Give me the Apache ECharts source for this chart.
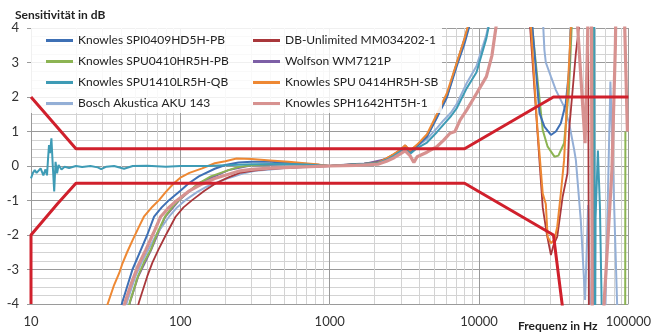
<!DOCTYPE html>
<html><head><meta charset="utf-8">
<script src="https://cdn.jsdelivr.net/npm/echarts@6/dist/echarts.min.js"></script>
<style>html,body{margin:0;padding:0;background:#fff}#c{width:654px;height:333px}</style>
</head><body><div id="c"></div>
<script>
// ---- tick labels / axis ----
const xTickLabels = [10, 100, 1000, 10000, 100000];
const yTicks = [-4, -3, -2, -1, 0, 1, 2, 3, 4];
const xMinorGrid = [20,30,40,50,60,70,80,90,200,300,400,500,600,700,800,900,2000,3000,4000,5000,6000,7000,8000,9000,20000,30000,40000,50000,60000,70000,80000,90000];

// ---- series names ----
const names = ['Knowles SPI0409HD5H-PB','DB-Unlimited MM034202-1','Knowles SPU0410HR5H-PB','Wolfson WM7121P','Knowles SPU1410LR5H-QB','Knowles SPU 0414HR5H-SB','Bosch Akustica AKU 143','Knowles SPH1642HT5H-1'];

// ---- series values: [frequency Hz, dB] ----
const spi0409 = [[38,-4.4],[41,-3.93],[44,-3.5],[47.8,-3.0],[54.4,-2.43],[60,-2.0],[66.7,-1.47],[75,-1.2],[84,-0.99],[100,-0.72],[114,-0.5],[133,-0.3],[170,-0.08],[200,0.03],[245,0.1],[300,0.12],[400,0.12],[600,0.08],[800,0.04],[1000,0.0],[1300,0.03],[1700,0.06],[2100,0.1],[2400,0.2],[2700,0.32],[3000,0.44],[3200,0.56],[3450,0.4],[3850,0.58],[4480,0.85],[5220,1.4],[6080,1.98],[7100,2.9],[8000,3.55],[8800,4.2],[12000,8],[21500,8],[22800,4.0],[25400,1.53],[27400,1.14],[30300,0.9],[32700,1.0],[35300,1.24],[38100,1.82],[40100,2.78],[42000,5],[57000,6],[58000,-6]];
const dbUnlimited = [[48,-4.6],[53,-3.93],[60,-3.2],[65,-2.8],[71.2,-2.43],[80,-2.0],[92.9,-1.47],[105,-1.2],[120,-0.99],[145,-0.72],[173,-0.5],[210,-0.33],[250,-0.2],[300,-0.14],[400,-0.08],[600,-0.04],[1000,0.0],[1300,0.04],[1700,0.07],[2100,0.11],[2400,0.22],[2700,0.34],[3000,0.47],[3200,0.6],[3450,0.44],[3850,0.6],[4480,0.88],[5220,1.45],[6080,2.03],[7100,2.95],[8000,3.62],[8700,4.2],[12000,8],[21000,8],[22000,4.0],[26700,-1.2],[28500,-2.0],[30300,-2.58],[31500,-2.3],[33400,-2.05],[36300,-0.89],[39100,-0.21],[40100,1.04],[44500,3.27],[47200,4.2],[50000,8],[53500,8],[54500,-6]];
const spu0410 = [[42,-4.7],[46,-3.93],[52,-3.2],[57,-2.8],[63.4,-2.43],[70,-1.95],[78.9,-1.47],[88,-1.2],[97.7,-0.99],[115,-0.72],[133,-0.5],[160,-0.3],[210,-0.12],[245,-0.03],[300,0.02],[400,0.05],[600,0.05],[800,0.02],[1000,0.0],[1300,0.03],[1700,0.06],[2100,0.1],[2400,0.2],[2700,0.33],[3000,0.45],[3200,0.58],[3450,0.42],[3850,0.6],[4480,0.88],[5220,1.43],[6080,2.01],[7100,2.98],[8000,3.65],[8700,4.2],[12000,8],[21500,8],[22700,4.0],[26700,1.04],[28800,0.56],[32000,0.27],[34000,0.3],[37100,0.66],[40100,2.3],[41700,4.0],[44000,8],[57500,8],[58500,-8],[95000,-8],[95500,1.0]];
const wm7121 = [[43,-4.6],[46,-3.95],[52,-3.22],[63.4,-2.45],[78.9,-1.48],[97.7,-1.0],[133,-0.5],[210,-0.12],[300,0.02],[600,0.05],[1000,0.0],[1700,0.06],[2400,0.2],[2700,0.33],[3200,0.58],[3450,0.42],[3850,0.6],[4480,0.88],[5220,1.43],[6080,2.01],[7100,2.98],[8700,4.2],[12000,8]];
const spu1410 = [[10,-0.36],[10.3,-0.2],[10.6,-0.12],[10.9,-0.2],[11.2,-0.24],[11.6,-0.07],[12.1,-0.27],[12.5,-0.1],[12.8,-0.27],[13.0,0.2],[13.2,0.61],[13.4,0.37],[13.7,0.8],[14.0,-0.02],[14.3,-0.74],[14.6,0.12],[14.95,-0.21],[15.3,0.03],[16,-0.1],[16.8,-0.02],[18,-0.06],[20,0.0],[22,-0.03],[25,0.0],[28,-0.04],[29.5,-0.09],[32,-0.02],[36,0.0],[42,-0.08],[48,0.0],[60,0.01],[80,-0.02],[100,0.0],[150,0.0],[200,0.02],[300,0.05],[500,0.06],[700,0.04],[1000,0.0],[1300,0.03],[1700,0.06],[2100,0.08],[2400,0.18],[2700,0.3],[3200,0.52],[3450,0.35],[3850,0.52],[4480,0.68],[5220,0.98],[5780,1.2],[6500,1.45],[7100,1.68],[8260,2.25],[9620,2.72],[11200,3.7],[11800,4.2],[15000,8],[58800,8],[59800,-6],[60300,-1.5],[62500,0.45],[63300,0.45],[64500,-1.2],[67500,-6]];
const spu0414 = [[30,-4.5],[32.6,-4.0],[36,-3.45],[39,-3.1],[41,-2.82],[44,-2.5],[48,-2.14],[53,-1.75],[57,-1.47],[65,-1.18],[72,-0.99],[80,-0.75],[90.5,-0.5],[100,-0.34],[115,-0.2],[140,-0.07],[170,0.08],[200,0.14],[238,0.22],[300,0.2],[400,0.16],[530,0.12],[680,0.08],[850,0.04],[1000,0.0],[1300,0.02],[1700,0.05],[2100,0.09],[2400,0.22],[2700,0.35],[3000,0.48],[3200,0.6],[3450,0.44],[3850,0.62],[4480,0.92],[5220,1.5],[6080,2.1],[7100,3.0],[8000,3.7],[8600,4.2],[12000,8],[21000,8],[22300,4.0],[24500,1.2],[26700,-0.8],[28000,-1.1],[28800,-2.05],[30300,-2.24],[32000,-2.14],[33400,-1.76],[35300,-0.79],[37100,0.17],[41200,4.0],[44000,8],[56500,8],[57400,-8]];
const aku143 = [[40,-4.6],[44,-3.93],[50,-3.2],[55,-2.8],[61,-2.43],[70,-1.95],[84,-1.47],[95,-1.2],[108,-0.99],[130,-0.75],[150,-0.6],[171,-0.5],[200,-0.38],[230,-0.3],[270,-0.2],[316,-0.14],[400,-0.1],[500,-0.06],[700,-0.03],[1000,0.0],[1300,0.04],[1700,0.07],[2100,0.1],[2400,0.2],[2700,0.33],[3200,0.56],[3450,0.4],[3850,0.58],[4480,0.78],[5220,1.1],[5780,1.32],[6500,1.55],[7100,1.8],[8260,2.4],[9620,2.9],[11200,3.8],[11700,4.2],[15000,8],[26000,8],[26800,4.2],[27400,3.36],[28000,3.0],[30300,2.59],[32700,2.2],[37100,1.72],[40100,1.24],[43400,0.46],[44500,0.17],[48000,-1.57],[51300,-3.88],[53800,-1.13],[56000,-5],[69000,-5],[70300,-4],[75800,2.45],[84200,-4.1],[86000,-6]];
const sph1642 = [[38,-4.7],[42.8,-3.93],[47,-3.4],[52,-2.9],[58.7,-2.43],[66,-1.95],[73.8,-1.47],[84,-1.2],[95.2,-0.99],[115,-0.72],[140,-0.52],[170,-0.36],[200,-0.27],[245,-0.15],[300,-0.1],[400,-0.06],[600,-0.03],[1000,0.0],[1500,0.02],[2100,0.05],[2400,0.14],[2700,0.24],[3200,0.44],[3450,0.3],[3660,0.1],[3850,0.27],[4480,0.4],[5220,0.56],[5800,0.75],[6390,0.95],[6900,1.0],[7460,1.33],[8260,1.62],[9620,2.1],[11200,2.59],[12200,3.2],[13060,4.1],[15000,8],[44000,8],[45500,4.2],[51300,0.66],[53100,3.31],[54500,6],[56500,6],[57400,-6],[68000,-6],[68700,-4],[74200,-1.57],[77600,-0.12],[81800,3.46],[83500,6],[92000,6],[98500,1.0]];
const tolUpper = [[10,2],[20,0.5],[8000,0.5],[31500,2],[100000,2]];
const tolLower = [[10,-4],[10,-2],[15,-1.1],[20,-0.5],[8000,-0.5],[31500,-2],[36000,-4],[38000,-5]];

const colors = {
  spi0409:'#3E70B5', dbUnlimited:'#A9373B', spu0410:'#8CB453', wm7121:'#7D5FA6',
  spu1410:'#3E9BB5', spu0414:'#EE8833', aku143:'#94AFD6', sph1642:'#D79290', tol:'#D0202C'
};
const FONT = 'Lato';

function curve(name, data, color, width, z) {
  return { name, type:'line', data, showSymbol:false, symbol:'none', z: z||2,
    lineStyle:{color, width}, itemStyle:{color}, animation:false };
}

const series = [
  curve(names[3], wm7121, colors.wm7121, 2),
  curve(names[6], aku143, colors.aku143, 2),
  curve(names[1], dbUnlimited, colors.dbUnlimited, 1.8),
  curve(names[2], spu0410, colors.spu0410, 2),
  curve(names[0], spi0409, colors.spi0409, 2),
  curve(names[5], spu0414, colors.spu0414, 2),
  curve(names[4], spu1410, colors.spu1410, 2),
  curve(names[7], sph1642, colors.sph1642, 3.2),
  { name:'tolUpper', type:'line', data:tolUpper, showSymbol:false, symbol:'none', lineStyle:{color:colors.tol, width:3}, animation:false },
  { name:'tolLower', type:'line', data:tolLower, showSymbol:false, symbol:'none', lineStyle:{color:colors.tol, width:3}, animation:false }
];

const legendText = { fontFamily: FONT, fontSize: 12, color:'#222', lineHeight: 15 };
const chart = echarts.init(document.getElementById('c'), null, {renderer:'canvas'});
chart.setOption({
  animation:false,
  textStyle:{fontFamily:FONT},
  title:[
    {text:'Sensitivität in dB', left:10, top:4, textStyle:{fontFamily:FONT, fontSize:12, fontWeight:'bold', color:'#222'}},
    {text:'Frequenz in Hz', left:513, top:315, textStyle:{fontFamily:FONT, fontSize:12, fontWeight:'bold', color:'#222'}}
  ],
  grid:{left:31, right:21, top:28, bottom:29, containLabel:false},
  xAxis:[
    { type:'log', logBase:10, min:10, max:100000,
      axisLine:{show:false}, axisTick:{show:false},
      axisLabel:{fontFamily:FONT, fontSize:13, color:'#333', margin:11, formatter:v=>String(v), customValues: xTickLabels},
      splitLine:{show:true, lineStyle:{color:'#9a9a9a', width:1}}, z:1 },
    { type:'log', logBase:10, min:10, max:100000, position:'bottom',
      axisLine:{show:false}, axisLabel:{show:false},
      axisTick:{show:false, customValues: xMinorGrid},
      splitLine:{show:true, lineStyle:{color:'#d3d3d3', width:1}}, z:0 }
  ],
  yAxis:{ type:'value', min:-4, max:4, interval:1,
    axisLine:{show:false},
    axisTick:{show:true, length:4, lineStyle:{color:'#9a9a9a'}},
    axisLabel:{fontFamily:FONT, fontSize:13, color:'#333', margin:12},
    splitLine:{show:true, lineStyle:{color:'#9a9a9a', width:1}},
    minorTick:{show:false, splitNumber:4},
    minorSplitLine:{show:true, lineStyle:{color:'#d3d3d3', width:1}} },
  graphic:[{type:'rect', shape:{x:31, y:28, width:411, height:85}, style:{fill:'rgba(255,255,255,0.85)'}, z:3, silent:true}],
  legend:[
    { orient:'vertical', left:46, top:33, padding:0, itemGap:6, itemWidth:27, itemHeight:3, icon:'rect',
      data:[names[0], names[2], names[4], names[6]], textStyle:legendText, selectedMode:false },
    { orient:'vertical', left:253, top:33, padding:0, itemGap:6, itemWidth:27, itemHeight:3, icon:'rect',
      data:[names[1], names[3], names[5], names[7]], textStyle:legendText, selectedMode:false }
  ],
  series
});
</script>
</body></html>
